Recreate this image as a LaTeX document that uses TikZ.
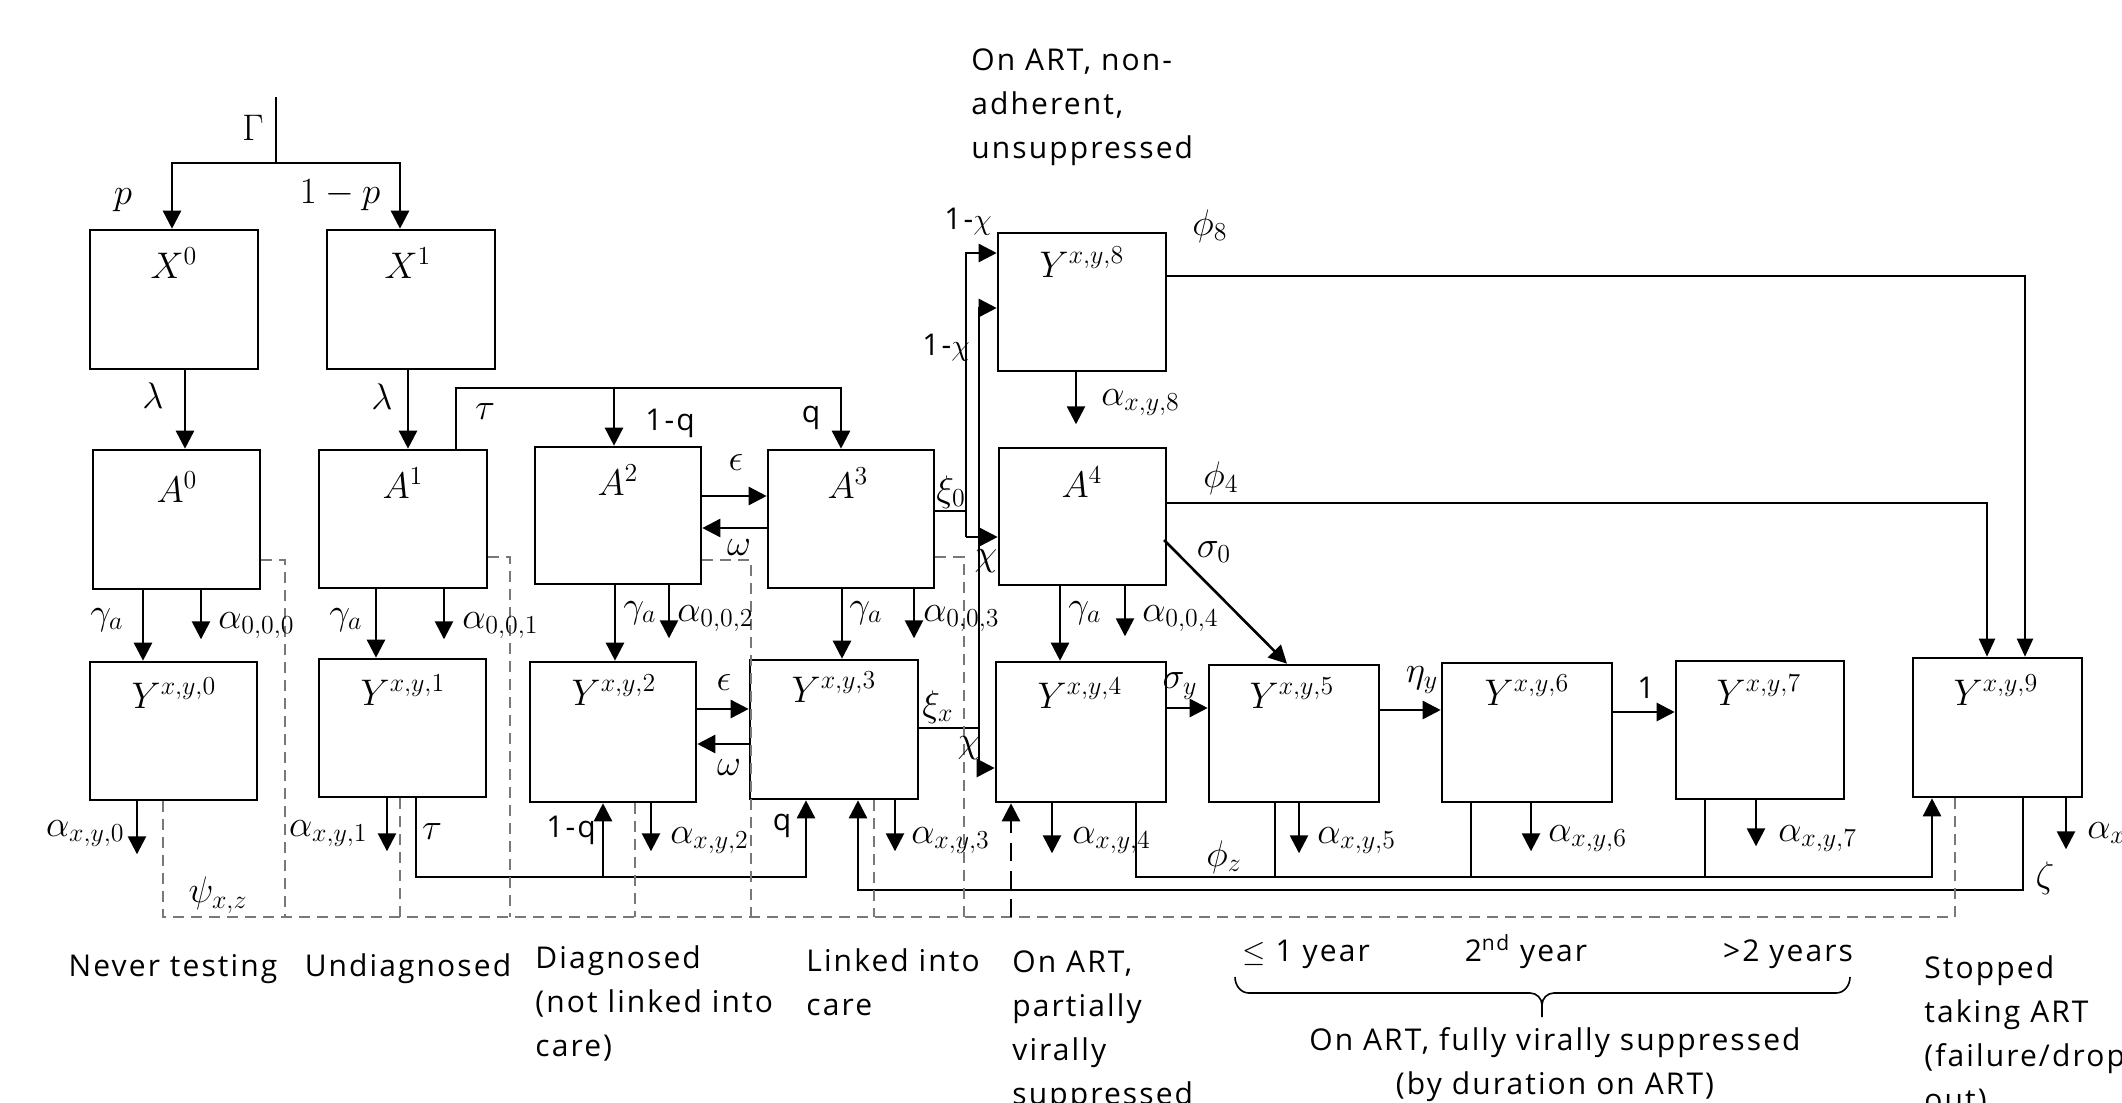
\RequirePackage{fix-cm}
\documentclass[tikz,border=0pt]{standalone}
\usepackage{fontspec}
\setmainfont[LetterSpace=7]{Open Sans}
\usetikzlibrary{arrows.meta,fit}
\definecolor{dgray}{RGB}{120,120,120}
\newcommand\tsz{\fontsize{15}{22}\selectfont}
\newcommand\msz{\fontsize{18.5}{22}\selectfont}
\tikzset{
 bx/.style={draw, line width=1.3pt, inner sep=0pt, rectangle},
 ln/.style={line width=1.3pt},
 arr/.style={line width=1.3pt, -{Triangle[length=9pt,width=9pt]}},
 arrt/.style={line width=1pt, -{Triangle[length=9pt,width=8pt]}},
 dsh/.style={draw=dgray, line width=0.9pt, dash pattern=on 5.5pt off 3.5pt},
 dsharr/.style={line width=1.3pt, dash pattern=on 9pt off 5pt, -{Triangle[length=9pt,width=9pt]}},
 ml/.style={inner sep=0pt, font=\msz},
 tl/.style={inner sep=0pt, font=\tsz},
 tb/.style={inner sep=0pt, font=\tsz, align=left, anchor=north west},
}
\begin{document}
\begin{tikzpicture}[x=0.5pt,y=-0.5pt]
\fill[white] (0,0) rectangle (2122,1103);
\useasboundingbox (0,0) rectangle (2122,1103);

% ---------- boxes ----------
\node[bx, fit={(90,230) (258,369)}] (X0) {};
\node[bx, fit={(327,230) (495,369)}] (X1) {};
\node[bx, fit={(93,450) (260,589)}] (A0) {};
\node[bx, fit={(319,450) (487,588)}] (A1) {};
\node[bx, fit={(535,447) (701,584)}] (A2) {};
\node[bx, fit={(768,450) (934,588)}] (A3) {};
\node[bx, fit={(998,233) (1166,371)}] (Y8) {};
\node[bx, fit={(999,448) (1166,585)}] (A4) {};
\node[bx, fit={(90,662) (257,800)}] (Y0) {};
\node[bx, fit={(319,659) (486,797)}] (Y1) {};
\node[bx, fit={(530,662) (696,802)}] (Y2) {};
\node[bx, fit={(750,660) (918,799)}] (Y3) {};
\node[bx, fit={(996,662) (1166,802)}] (Y4) {};
\node[bx, fit={(1209,665) (1379,802)}] (Y5) {};
\node[bx, fit={(1442,663) (1612,802)}] (Y6) {};
\node[bx, fit={(1676,661) (1844,799)}] (Y7) {};
\node[bx, fit={(1913,658) (2082,797)}] (Y9) {};

% ---------- box labels ----------
\node[ml] (lX0) at (174,263) {$X^0$};
\node[ml] (lX1) at (408,263) {$X^1$};
\node[ml] (lA0) at (177,487) {$A^0$};
\node[ml] (lA1) at (403,483) {$A^1$};
\node[ml] (lA2) at (618,480) {$A^2$};
\node[ml] (lA3) at (848,483) {$A^3$};
\node[ml] (lY8) at (1082,262) {$Y^{x,y,8}$};
\node[ml] (lA4) at (1082,482) {$A^4$};
\node[ml] (lY0) at (174,693) {$Y^{x,y,0}$};
\node[ml] (lY1) at (403,690) {$Y^{x,y,1}$};
\node[ml] (lY2) at (614,690) {$Y^{x,y,2}$};
\node[ml] (lY3) at (834,687) {$Y^{x,y,3}$};
\node[ml] (lY4) at (1080,693) {$Y^{x,y,4}$};
\node[ml] (lY5) at (1292,693) {$Y^{x,y,5}$};
\node[ml] (lY6) at (1527,690) {$Y^{x,y,6}$};
\node[ml] (lY7) at (1759,690) {$Y^{x,y,7}$};
\node[ml] (lY9) at (1996,690) {$Y^{x,y,9}$};

% ---------- helper coordinates ----------
\coordinate (G) at (276,97);
\coordinate (ybr) at (0,163);
\coordinate (cp) at (172,0);
\coordinate (c1p) at (400,0);
\coordinate (cl0) at (185,0);
\coordinate (cl1) at (408,0);
\coordinate (ctau) at (456,0);
\coordinate (ytop) at (0,388);
\coordinate (cq1) at (614,0);
\coordinate (cq) at (841,0);
\coordinate (yeps) at (0,496);
\coordinate (yom) at (0,528);
\coordinate (yeps2) at (0,709);
\coordinate (yom2) at (0,744);
\coordinate (cg0) at (143,0);
\coordinate (ca0) at (201,0);
\coordinate (cg1) at (376,0);
\coordinate (ca1) at (444,0);
\coordinate (cg2) at (615,0);
\coordinate (ca2) at (669,0);
\coordinate (cg3) at (842,0);
\coordinate (ca3) at (914,0);
\coordinate (cg4) at (1060,0);
\coordinate (ca4) at (1125,0);
\coordinate (cv0) at (966,0);
\coordinate (cvx) at (979,0);
\coordinate (yxi0) at (0,511);
\coordinate (yxix) at (0,728);
\coordinate (y8a) at (0,253);
\coordinate (y8b) at (0,308);
\coordinate (yA4) at (0,537);
\coordinate (yY4) at (0,768);
\coordinate (cb8) at (1076,0);
\coordinate (yphi8) at (0,276);
\coordinate (yphi4) at (0,503);
\coordinate (cf8) at (2025,0);
\coordinate (cf4) at (1987,0);
\coordinate (s0) at (1164,540);
\coordinate (cs5) at (1287,0);
\coordinate (ysy) at (0,708);
\coordinate (yeta) at (0,710);
\coordinate (yone) at (0,712);
\coordinate (cb0) at (137,0);
\coordinate (cb1) at (387,0);
\coordinate (cb2) at (651,0);
\coordinate (cb3) at (895,0);
\coordinate (cb4) at (1052,0);
\coordinate (cb5) at (1299,0);
\coordinate (cb6) at (1531,0);
\coordinate (cb7) at (1756,0);
\coordinate (cb9) at (2066,0);
\coordinate (ctb) at (416,0);
\coordinate (c1qb) at (603,0);
\coordinate (cqb) at (806,0);
\coordinate (czb) at (858,0);
\coordinate (yphiz) at (0,877);
\coordinate (yzeta) at (0,890);
\coordinate (cpz4) at (1136,0);
\coordinate (cpz5) at (1275,0);
\coordinate (cpz6) at (1471,0);
\coordinate (cpz7) at (1705,0);
\coordinate (cpz9) at (1932,0);
\coordinate (cz9) at (2023,0);
\coordinate (ydash) at (0,917);
\coordinate (d0) at (163,0);
\coordinate (d1) at (285,0);
\coordinate (d2) at (400,0);
\coordinate (d3) at (510,0);
\coordinate (d4) at (635,0);
\coordinate (d5) at (751,0);
\coordinate (d6) at (874,0);
\coordinate (d7) at (964,0);
\coordinate (d9) at (1955,0);
\coordinate (dpsi) at (1011,0);
\coordinate (ydA0) at (0,560);
\coordinate (ydA1) at (0,557);
\coordinate (ydA2) at (0,560);
\coordinate (ydA3) at (0,557);

% ---------- connectors ----------
\draw[ln] (G) -- (G |- ybr);
\draw[arr] (G |- ybr) -| (X0.north -| cp);
\draw[arr] (G |- ybr) -| (X1.north -| c1p);
\draw[arr] (X0.south -| cl0) -- (A0.north -| cl0);
\draw[arr] (X1.south -| cl1) -- (A1.north -| cl1);
\draw[arr] (A1.north -| ctau) |- (ytop -| cq) -- (A3.north -| cq);
\draw[arr] (ytop -| cq1) -- (A2.north -| cq1);
\draw[arr] (A2.east |- yeps) -- (A3.west |- yeps);
\draw[arr] (A3.west |- yom) -- (A2.east |- yom);
\draw[arr] (Y2.east |- yeps2) -- (Y3.west |- yeps2);
\draw[arr] (Y3.west |- yom2) -- (Y2.east |- yom2);

\draw[arr] (A0.south -| cg0) -- (Y0.north -| cg0);
\draw[arr] (A0.south -| ca0) -- ++(0,49);
\draw[arr] (A1.south -| cg1) -- (Y1.north -| cg1);
\draw[arr] (A1.south -| ca1) -- ++(0,50);
\draw[arr] (A2.south -| cg2) -- (Y2.north -| cg2);
\draw[arr] (A2.south -| ca2) -- ++(0,53);
\draw[arr] (A3.south -| cg3) -- (Y3.north -| cg3);
\draw[arr] (A3.south -| ca3) -- ++(0,49);
\draw[arr] (A4.south -| cg4) -- (Y4.north -| cg4);
\draw[arr] (A4.south -| ca4) -- ++(0,50);

% xi_0 / xi_x branches
\draw[ln] (A3.east |- yxi0) -- (yxi0 -| cv0);
\draw[arr] (yA4 -| cv0) |- (Y8.west |- y8a);
\draw[arr] (yA4 -| cv0) -- (A4.west |- yA4);
\draw[ln] (Y3.east |- yxix) -- (yxix -| cvx);
\draw[arr] (yY4 -| cvx) |- (Y8.west |- y8b);
\draw[arr] (yY4 -| cvx) -- (Y4.west |- yY4);

\draw[arr] (Y8.south -| cb8) -- ++(0,52);
\draw[arrt] (Y8.east |- yphi8) -| (Y9.north -| cf8);
\draw[arrt] (A4.east |- yphi4) -| (Y9.north -| cf4);
\draw[arr] (s0) -- (Y5.north -| cs5);
\draw[arr] (Y4.east |- ysy) -- (Y5.west |- ysy);
\draw[arr] (Y5.east |- yeta) -- (Y6.west |- yeta);
\draw[arr] (Y6.east |- yone) -- (Y7.west |- yone);

% outflows
\draw[arr] (Y0.south -| cb0) -- ++(0,53);
\draw[arr] (Y1.south -| cb1) -- ++(0,53);
\draw[arr] (Y2.south -| cb2) -- ++(0,48);
\draw[arr] (Y3.south -| cb3) -- ++(0,51);
\draw[arr] (Y4.south -| cb4) -- ++(0,50);
\draw[arr] (Y5.south -| cb5) -- ++(0,50);
\draw[arr] (Y6.south -| cb6) -- ++(0,48);
\draw[arr] (Y7.south -| cb7) -- ++(0,46);
\draw[arr] (Y9.south -| cb9) -- ++(0,51);

% tau (bottom), phi_z, zeta
\draw[arr] (Y1.south -| ctb) |- (yphiz -| cqb) -- (Y3.south -| cqb);
\draw[arr] (yphiz -| c1qb) -- (Y2.south -| c1qb);
\draw[arr] (Y4.south -| cpz4) |- (yphiz -| cpz9) -- (Y9.south -| cpz9);
\draw[ln] (Y5.south -| cpz5) -- (yphiz -| cpz5);
\draw[ln] (Y6.south -| cpz6) -- (yphiz -| cpz6);
\draw[ln] (Y7.south -| cpz7) -- (yphiz -| cpz7);
\draw[arr] (Y9.south -| cz9) |- (yzeta -| czb) -- (Y3.south -| czb);

% dashed psi network
\draw[dsh] (Y0.south -| d0) |- (ydash -| d9) -- (Y9.south -| d9);
\draw[dsh] (A0.east |- ydA0) -| (ydash -| d1);
\draw[dsh] (Y1.south -| d2) -- (ydash -| d2);
\draw[dsh] (A1.east |- ydA1) -| (ydash -| d3);
\draw[dsh] (Y2.south -| d4) -- (ydash -| d4);
\draw[dsh] (A2.east |- ydA2) -| (ydash -| d5);
\draw[dsh] (Y3.south -| d6) -- (ydash -| d6);
\draw[dsh] (A3.east |- ydA3) -| (ydash -| d7);
\draw[dsharr] (ydash -| dpsi) -- (Y4.south -| dpsi);

% ---------- rate labels ----------
\node[ml] (lG) at (253,128) {$\Gamma$};
\node[ml] (lp) at (123,200) {$p$};
\node[ml] (l1p) at (340,195) {$1-p$};
\node[ml] (llam0) at (153,396) {$\lambda$};
\node[ml] (llam1) at (382,397) {$\lambda$};
\node[ml] (ltau) at (485,412) {$\tau$};
\node[tl] (l1q) at (670,423) {1-q};
\node[tl] (lq) at (811,418) {q};
\node[ml] (leps) at (736,463) {$\epsilon$};
\node[ml] (lom) at (739,548) {$\omega$};
\node[ml] (lxi0) at (951,492) {$\xi_0$};
\node[ml] (lchi1) at (986,561) {$\chi$};
\node[tl] (l1chia) at (968,222) {1-$\chi$};
\node[tl] (l1chib) at (946,348) {1-$\chi$};
\node[ml] (lga0) at (107,620) {$\gamma_a$};
\node[ml] (lga1) at (346,620) {$\gamma_a$};
\node[ml] (lga2) at (640,613) {$\gamma_a$};
\node[ml] (lga3) at (866,613) {$\gamma_a$};
\node[ml] (lga4) at (1085,613) {$\gamma_a$};
\node[ml, anchor=base west] (la0) at (218,628) {$\alpha_{0,0,0}$};
\node[ml, anchor=base west] (la1) at (462,628) {$\alpha_{0,0,1}$};
\node[ml, anchor=base west] (la2) at (677,621) {$\alpha_{0,0,2}$};
\node[ml, anchor=base west] (la3) at (923,621) {$\alpha_{0,0,3}$};
\node[ml, anchor=base west] (la4) at (1142,621) {$\alpha_{0,0,4}$};
\node[ml] (leps2) at (724,683) {$\epsilon$};
\node[ml] (lom2) at (729,768) {$\omega$};
\node[ml] (lxix) at (938,707) {$\xi_x$};
\node[ml] (lchi2) at (969,748) {$\chi$};
\node[ml, anchor=base west] (la8) at (1101,405) {$\alpha_{x,y,8}$};
\node[ml] (lphi8) at (1210,226) {$\phi_8$};
\node[ml] (lphi4) at (1221,478) {$\phi_4$};
\node[ml] (lsig0) at (1214,552) {$\sigma_0$};
\node[ml] (lsigy) at (1180,686) {$\sigma_y$};
\node[ml] (leta) at (1422,680) {$\eta_y$};
\node[tl] (lone) at (1646,688) {1};
\node[ml, anchor=base east] (lb0) at (125,836) {$\alpha_{x,y,0}$};
\node[ml, anchor=base east] (lb1) at (368,836) {$\alpha_{x,y,1}$};
\node[ml] (ltau2) at (432,832) {$\tau$};
\node[tl] (l1q2) at (571,830) {1-q};
\node[tl] (lq2) at (782,826) {q};
\node[ml, anchor=base west] (lb2) at (670,843) {$\alpha_{x,y,2}$};
\node[ml, anchor=base west] (lb3) at (911,843) {$\alpha_{x,y,3}$};
\node[ml, anchor=base west] (lb4) at (1072,843) {$\alpha_{x,y,4}$};
\node[ml, anchor=base west] (lb5) at (1317,843) {$\alpha_{x,y,5}$};
\node[ml, anchor=base west] (lb6) at (1548,841) {$\alpha_{x,y,6}$};
\node[ml, anchor=base west] (lb7) at (1778,841) {$\alpha_{x,y,7}$};
\node[ml, anchor=base west] (lb9) at (2087,838) {$\alpha_{x,y,9}$};
\node[ml] (lphiz) at (1224,857) {$\phi_z$};
\node[ml] (lzeta) at (2045,878) {$\zeta$};
\node[ml] (lpsi) at (218,895) {$\psi_{x,z}$};

% ---------- captions ----------
\node[tl, anchor=base] (tNever) at (173,976) {Never testing};
\node[tl, anchor=base] (tUnd) at (408,976) {Undiagnosed};
\node[tb] (tDiag) at (535,945) {Diagnosed\\(not linked into\\care)};
\node[tb] (tLink) at (806,948) {Linked into\\care};
\node[tb] (tPart) at (1012,950) {On ART,\\partially\\virally\\suppressed};
\node[tb] (tNonad) at (971,48) {On ART, non-\\adherent,\\unsuppressed};
\node[tl, anchor=base west] (tY1) at (1242,961) {$\leq$ 1 year};
\node[tl, anchor=base] (tY2) at (1526,961) {2\textsuperscript{nd} year};
\node[tl, anchor=base] (tY3) at (1788,961) {>2 years};
\node[tl, align=center, anchor=north] (tFull) at (1555,1027) {On ART, fully virally suppressed\\(by duration on ART)};
\node[tb] (tStop) at (1924,955) {Stopped\\taking ART\\(failure/drop\\out)};

% brace
\coordinate (brL) at (1235,977);
\coordinate (brM) at (1542,1017);
\coordinate (brR) at (1850,977);
\draw[line width=0.8pt] (brL) to[out=-90,in=180] (1249,993) -- (1530,993) to[out=0,in=90] (1542,1005) -- (brM);
\draw[line width=0.8pt] (1542,1005) to[out=90,in=180] (1554,993) -- (1836,993) to[out=0,in=-90] (brR);
\end{tikzpicture}
\end{document}
